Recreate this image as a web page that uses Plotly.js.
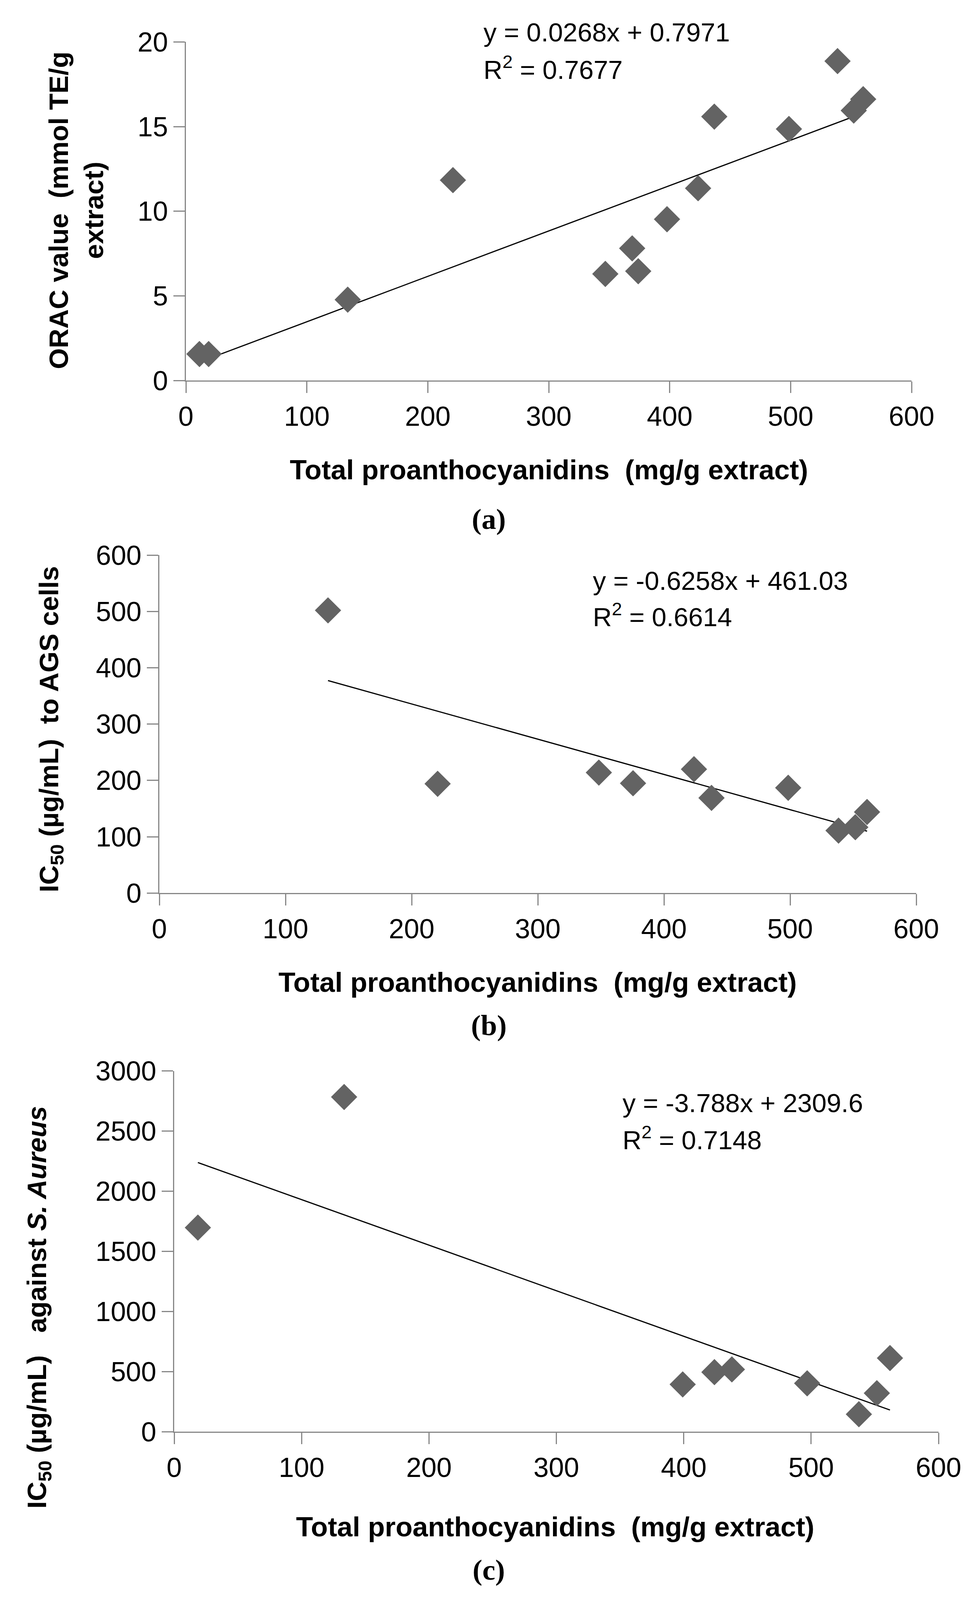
<!DOCTYPE html>
<html>
<head>
<meta charset="utf-8">
<script src="https://cdn.plot.ly/plotly-3.0.1.min.js"></script>
<style>
  html, body { margin: 0; padding: 0; background: #ffffff; overflow: hidden; }
  #chart { position: absolute; left: 0; top: 0; }
</style>
</head>
<body>
<div id="chart"></div>
<script>
// ---------- data ----------
// (a) ORAC vs total proanthocyanidins
const aX = [11.2, 18.8, 133.8, 220.8, 346.8, 369.0, 374.0, 397.8, 423.5, 436.9, 498.6, 538.8, 552.2, 560.0];
const aY = [1.57, 1.57, 4.78, 11.84, 6.30, 7.81, 6.46, 9.53, 11.36, 15.59, 14.86, 18.87, 15.95, 16.62];
const aSlope = 0.0268, aIntercept = 0.7971;
const aEq = "y = 0.0268x + 0.7971";
const aR2 = "R<sup>2</sup> = 0.7677";

// (b) IC50 to AGS cells vs total proanthocyanidins
const bX = [133.7, 220.6, 348.4, 375.5, 423.8, 437.7, 498.5, 538.4, 551.7, 561.0];
const bY = [502, 194, 214, 195, 220, 169, 187, 111, 117, 144];
const bSlope = -0.6258, bIntercept = 461.03;
const bEq = "y = -0.6258x + 461.03";
const bR2 = "R<sup>2</sup> = 0.6614";

// (c) IC50 against S. aureus vs total proanthocyanidins
const cX = [18.6, 133.4, 399.2, 424.1, 437.8, 496.9, 537.5, 551.6, 561.9];
const cY = [1698, 2784, 394, 496, 519, 403, 146, 321, 613];
const cSlope = -3.788, cIntercept = 2309.6;
const cEq = "y = -3.788x + 2309.6";
const cR2 = "R<sup>2</sup> = 0.7148";

const xTitle = "Total proanthocyanidins  (mg/g extract)";
const aYTitle = "ORAC value  (mmol TE/g<br>extract)";
const bYTitle = "IC<sub>50</sub> (µg/mL)  to AGS cells";
const cYTitle = "IC<sub>50</sub> (µg/mL)   against <i>S. Aureus</i>";
const panelLabels = ["(a)", "(b)", "(c)"];

// ---------- sizing (fit the visible viewport) ----------
const W0 = 2499, H0 = 4271;
const VW = window.innerWidth || W0;
const VH = window.innerHeight || H0;
const W = Math.min(VW, W0), H = Math.min(VH, H0);
const s = Math.min(W / W0, H / H0);   // uniform scale for sizes
const px = v => v / W0;                // reference px -> paper fraction
const py = v => 1 - v / H0;
const sz = v => v * s;

const SANS = "Liberation Sans, Arial, sans-serif";
const SERIF = "Liberation Serif, Times New Roman, serif";
const AXIS_GRAY = "#878787";
const MARK = "#636363";

function trend(xs, m, b) {
  const lo = Math.min(...xs), hi = Math.max(...xs);
  return { x: [lo, hi], y: [m * lo + b, m * hi + b] };
}

function scatter(xs, ys, ax) {
  return {
    type: "scatter", mode: "markers", x: xs, y: ys,
    xaxis: "x" + ax, yaxis: "y" + ax,
    marker: { symbol: "diamond", size: sz(54), color: MARK, line: { width: 0 } },
    hoverinfo: "skip", showlegend: false
  };
}
function line(t, ax) {
  return {
    type: "scatter", mode: "lines", x: t.x, y: t.y,
    xaxis: "x" + ax, yaxis: "y" + ax,
    line: { color: "#000000", width: 3 },
    hoverinfo: "skip", showlegend: false
  };
}

function xAxis(dom, anchor, standoff) {
  return {
    domain: dom, anchor: anchor, range: [0, 600], dtick: 100, tick0: 0,
    showline: true, linecolor: AXIS_GRAY, linewidth: 3,
    ticks: "outside", ticklen: sz(30), tickwidth: 3, tickcolor: AXIS_GRAY,
    showgrid: false, zeroline: false,
    tickfont: { family: SANS, size: sz(73), color: "#000" },
    ticklabelstandoff: sz(standoff), fixedrange: true
  };
}
function yAxis(dom, anchor, range, dtick, standoff) {
  return {
    domain: dom, anchor: anchor, range: range, dtick: dtick, tick0: 0,
    showline: true, linecolor: AXIS_GRAY, linewidth: 3,
    ticks: "outside", ticklen: sz(30), tickwidth: 3, tickcolor: AXIS_GRAY,
    showgrid: false, zeroline: false,
    tickfont: { family: SANS, size: sz(73), color: "#000" },
    ticklabelstandoff: sz(standoff), fixedrange: true
  };
}

function ann(text, x, y, opts) {
  return Object.assign({
    text: text, xref: "paper", yref: "paper", x: px(x), y: py(y),
    showarrow: false, xanchor: "center", yanchor: "middle",
    font: { family: SANS, size: sz(70), color: "#000" }
  }, opts || {});
}

const data = [
  line(trend(aX, aSlope, aIntercept), ""), scatter(aX, aY, ""),
  line(trend(bX, bSlope, bIntercept), "2"), scatter(bX, bY, "2"),
  line(trend(cX, cSlope, cIntercept), "3"), scatter(cX, cY, "3")
];

const titleFont = { family: SANS, size: sz(74), color: "#000" };
const yTitleFont = { family: SANS, size: sz(72), color: "#000" };
const labFont = { family: SERIF, size: sz(78), color: "#000" };

const annotations = [
  // panel a
  ann(aEq, 1236, 86, { xanchor: "left" }),
  ann(aR2, 1236, 181, { xanchor: "left" }),
  ann("<b>" + xTitle + "</b>", 1405, 1254, { font: titleFont }),
  ann("<b>" + aYTitle + "</b>", 195, 562, { textangle: -90, font: yTitleFont }),
  ann("<b>" + panelLabels[0] + "</b>", 1251, 1385, { font: labFont }),
  // panel b
  ann(bEq, 1516, 1550, { xanchor: "left" }),
  ann(bR2, 1516, 1642, { xanchor: "left" }),
  ann("<b>" + xTitle + "</b>", 1376, 2622, { font: titleFont }),
  ann("<b>" + bYTitle + "</b>", 130, 1947, { textangle: -90, font: yTitleFont }),
  ann("<b>" + panelLabels[1] + "</b>", 1251, 2737, { font: labFont }),
  // panel c
  ann(cEq, 1592, 2944, { xanchor: "left" }),
  ann(cR2, 1592, 3038, { xanchor: "left" }),
  ann("<b>" + xTitle + "</b>", 1421, 4075, { font: titleFont }),
  ann("<b>" + cYTitle + "</b>", 99, 3490, { textangle: -90, font: yTitleFont }),
  ann("<b>" + panelLabels[2] + "</b>", 1251, 4190, { font: labFont })
];

const layout = {
  width: W, height: H,
  margin: { l: 0, r: 0, t: 0, b: 0, pad: 0 },
  paper_bgcolor: "#ffffff", plot_bgcolor: "#ffffff",
  showlegend: false,
  xaxis: xAxis([px(476), px(2334)], "y", 17),
  yaxis: yAxis([py(1016), py(112)], "x", [0, 20], 5, 26),
  xaxis2: xAxis([px(408), px(2346)], "y2", 19),
  yaxis2: yAxis([py(2384), py(1482)], "x2", [0, 600], 100, 28),
  xaxis3: xAxis([px(446), px(2403)], "y3", 24),
  yaxis3: yAxis([py(3822), py(2859)], "x3", [0, 3000], 500, 29),
  annotations: annotations
};

const el = document.getElementById("chart");
el.style.width = W + "px";
el.style.height = H + "px";
Plotly.newPlot(el, data, layout, { displayModeBar: false, staticPlot: true }).then(() => {
  // drop empty placeholder text nodes that Plotly leaves behind
  el.querySelectorAll("text").forEach(t => {
    if (!t.textContent || !t.textContent.trim()) t.remove();
  });
});
</script>
</body>
</html>
